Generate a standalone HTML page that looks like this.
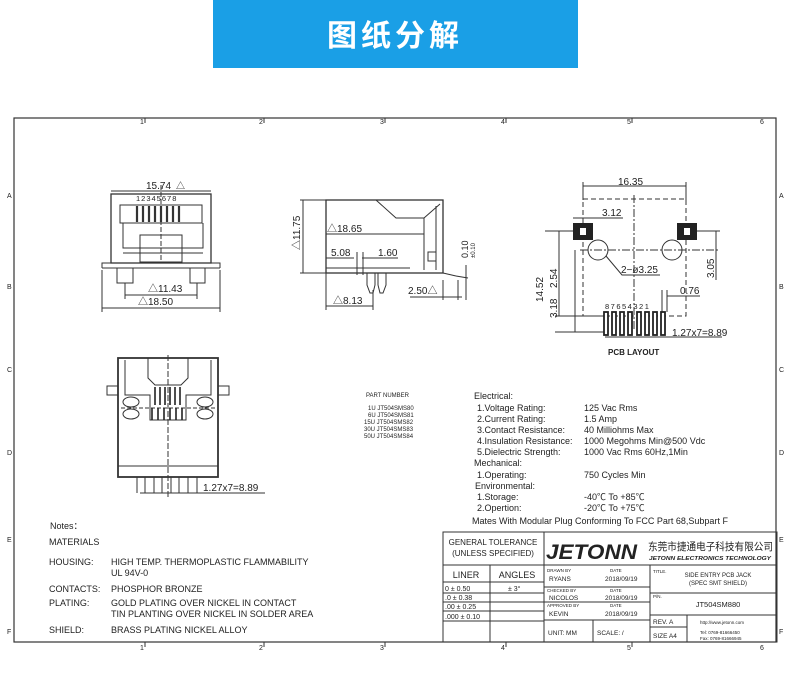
<!DOCTYPE html>
<html><head><meta charset="utf-8"><style>
body{margin:0;background:#fff;width:790px;height:699px;overflow:hidden}
svg{display:block}
text{font-family:"Liberation Sans","Noto Sans CJK SC",sans-serif;fill:#222}
</style></head><body>
<svg width="790" height="699" viewBox="0 0 790 699" xmlns="http://www.w3.org/2000/svg">
<rect x="213" y="0" width="365" height="68" fill="#1a9fe6"/>
<text x="395" y="46" text-anchor="middle" font-size="30" font-weight="bold" style="fill:#fff;letter-spacing:4px" font-family="Noto Sans CJK SC,sans-serif">图纸分解</text>

<g stroke="#333" fill="none" stroke-width="1.2">
<rect x="14" y="118" width="762" height="524"/>
</g>
<g font-size="7" font-family="Liberation Serif">
<text x="140" y="124">1</text><text x="259" y="124">2</text><text x="380" y="124">3</text><text x="501" y="124">4</text><text x="627" y="124">5</text><text x="760" y="124">6</text>
<text x="140" y="650">1</text><text x="259" y="650">2</text><text x="380" y="650">3</text><text x="501" y="650">4</text><text x="627" y="650">5</text><text x="760" y="650">6</text>
<text x="7" y="198">A</text><text x="7" y="289">B</text><text x="7" y="372">C</text><text x="7" y="455">D</text><text x="7" y="542">E</text><text x="7" y="634">F</text>
<text x="779" y="198">A</text><text x="779" y="289">B</text><text x="779" y="372">C</text><text x="779" y="455">D</text><text x="779" y="542">E</text><text x="779" y="634">F</text>
</g>
<g stroke="#333" stroke-width="1">
<line x1="145" y1="118" x2="145" y2="123"/><line x1="264" y1="118" x2="264" y2="123"/><line x1="385" y1="118" x2="385" y2="123"/><line x1="506" y1="118" x2="506" y2="123"/><line x1="632" y1="118" x2="632" y2="123"/>
<line x1="145" y1="642" x2="145" y2="647"/><line x1="264" y1="642" x2="264" y2="647"/><line x1="385" y1="642" x2="385" y2="647"/><line x1="506" y1="642" x2="506" y2="647"/><line x1="632" y1="642" x2="632" y2="647"/>
</g>

<!-- front view -->
<g stroke="#333" fill="none" stroke-width="1">
<line x1="111" y1="191" x2="211" y2="191"/>
<rect x="111" y="194" width="100" height="69" stroke-width="1.3"/>
<rect x="120" y="205" width="82" height="18"/>
<g stroke-width="2.2"><line x1="137" y1="206" x2="137" y2="222"/><line x1="143" y1="206" x2="143" y2="222"/><line x1="149" y1="206" x2="149" y2="222"/><line x1="155" y1="206" x2="155" y2="222"/><line x1="161" y1="206" x2="161" y2="222"/><line x1="167" y1="206" x2="167" y2="222"/><line x1="173" y1="206" x2="173" y2="222"/><line x1="179" y1="206" x2="179" y2="222"/></g>
<polyline points="123,223 123,248 203,248 203,223"/>
<rect x="140" y="235" width="42" height="27"/>
<line x1="123" y1="253" x2="203" y2="253"/>
<polyline points="102,268 102,263 220,263 220,268"/>
<line x1="102" y1="268" x2="220" y2="268"/>
<rect x="117" y="268" width="16" height="15"/><rect x="190" y="268" width="15" height="15"/>
<line x1="125" y1="295" x2="197" y2="295"/><line x1="125" y1="283" x2="125" y2="299"/><line x1="197" y1="283" x2="197" y2="299"/>
<line x1="102" y1="308" x2="220" y2="308"/><line x1="102" y1="270" x2="102" y2="312"/><line x1="220" y1="270" x2="220" y2="312"/>
<line x1="161" y1="185" x2="161" y2="262" stroke-dasharray="5,2"/>
</g>
<g font-size="10"><text x="146" y="189">15.74</text><text x="136" y="201" font-size="7.5" style="letter-spacing:1px">12345678</text>
<text x="148" y="292">△11.43</text><text x="138" y="305">△18.50</text><text x="176" y="189" font-size="9">△</text></g>

<!-- side view -->
<g stroke="#333" fill="none" stroke-width="1">
<rect x="326" y="200" width="117" height="73" stroke-width="1.3"/>
<polyline points="376,200 396,218 424,218 440,204"/>
<line x1="424" y1="218" x2="424" y2="270"/>
<line x1="436" y1="206" x2="436" y2="270"/>
<line x1="300" y1="200" x2="326" y2="200"/><line x1="300" y1="273" x2="326" y2="273"/><line x1="303" y1="200" x2="303" y2="273"/>
<line x1="326" y1="234" x2="424" y2="234"/>
<rect x="428" y="252" width="8" height="9"/>
<line x1="326" y1="258" x2="354" y2="258"/><line x1="362" y1="258" x2="398" y2="258"/>
<line x1="357" y1="252" x2="357" y2="275"/><line x1="363" y1="252" x2="363" y2="275"/>
<line x1="326" y1="268" x2="410" y2="268"/>
<path d="M367 273 v12 l3 8 h3 l2-8 v-12 M378 273 v12 l2 8 h3 l3-8 v-12"/>
<line x1="326" y1="273" x2="326" y2="310"/><line x1="373" y1="290" x2="373" y2="310"/><line x1="326" y1="306" x2="373" y2="306"/>
<line x1="443" y1="273" x2="456" y2="276"/><line x1="456" y1="276" x2="468" y2="278"/>
<line x1="410" y1="297" x2="462" y2="297"/><line x1="443" y1="280" x2="443" y2="300"/><line x1="458" y1="280" x2="458" y2="300"/>
<line x1="466" y1="265" x2="466" y2="300"/>
</g>
<g font-size="10"><text x="327" y="232">△18.65</text><text x="331" y="256">5.08</text><text x="378" y="256">1.60</text>
<text x="333" y="304">△8.13</text><text x="408" y="294">2.50△</text>
<text transform="translate(300,250) rotate(-90)">△11.75</text>
<text transform="translate(468,258) rotate(-90)" font-size="9">0.10</text>
<text transform="translate(475,258) rotate(-90)" font-size="6">±0.10</text></g>

<!-- PCB layout -->
<g stroke="#333" fill="none" stroke-width="1">
<line x1="583" y1="186" x2="686" y2="186"/><line x1="583" y1="182" x2="583" y2="200"/><line x1="686" y1="182" x2="686" y2="200"/>
<rect x="583" y="199" width="103" height="117" stroke-dasharray="5,3"/>
<line x1="634" y1="195" x2="634" y2="330" stroke-dasharray="8,2,2,2"/>
<line x1="580" y1="250" x2="720" y2="250" stroke-dasharray="8,2,2,2"/>
<circle cx="598" cy="250" r="10"/><circle cx="672" cy="250" r="10"/>
<polyline points="606,256 622,275 660,275"/>
<line x1="573" y1="218" x2="623" y2="218"/>
<line x1="545" y1="231" x2="573" y2="231"/><line x1="697" y1="231" x2="720" y2="231"/>
<line x1="559" y1="231" x2="559" y2="316"/><line x1="575" y1="250" x2="575" y2="332"/><line x1="716" y1="231" x2="716" y2="280"/>
<line x1="555" y1="316" x2="605" y2="316"/><line x1="555" y1="332" x2="605" y2="332"/>
<line x1="667" y1="296" x2="700" y2="296"/><line x1="662" y1="290" x2="662" y2="312"/><line x1="667" y1="290" x2="667" y2="312"/>
<line x1="605" y1="337" x2="722" y2="337"/>
</g>
<rect x="573" y="223" width="20" height="17" fill="#222"/><rect x="580" y="228" width="6" height="7" fill="#fff"/>
<rect x="677" y="223" width="20" height="17" fill="#222"/><rect x="684" y="228" width="6" height="7" fill="#fff"/>
<g fill="#fff" stroke="#222" stroke-width="1.8">
<rect x="604" y="312" width="4" height="23"/><rect x="612" y="312" width="4" height="23"/><rect x="620" y="312" width="4" height="23"/><rect x="628" y="312" width="4" height="23"/><rect x="637" y="312" width="4" height="23"/><rect x="645" y="312" width="4" height="23"/><rect x="653" y="312" width="4" height="23"/><rect x="661" y="312" width="4" height="23"/>
</g>
<g font-size="10"><text x="618" y="185">16.35</text><text x="602" y="216">3.12</text><text x="621" y="273">2−ø3.25</text><text x="680" y="294">0.76</text><text x="672" y="336">1.27x7=8.89</text>
<text x="605" y="309" font-size="7.5" style="letter-spacing:1.5px">87654321</text>
<text x="608" y="355" font-size="8" font-weight="bold" font-family="Liberation Serif">PCB LAYOUT</text>
<text transform="translate(543,302) rotate(-90)">14.52</text><text transform="translate(557,288) rotate(-90)">2.54</text>
<text transform="translate(557,318) rotate(-90)">3.18</text><text transform="translate(714,278) rotate(-90)">3.05</text></g>

<!-- bottom left view -->
<g stroke="#333" fill="none" stroke-width="1">
<rect x="118" y="358" width="100" height="119" stroke-width="1.8"/>
<polyline points="148,358 148,378 155,385 181,385 188,378 188,358"/>
<polyline points="125,360 125,395 150,395 150,420 186,420 186,395 211,395 211,360"/>
<line x1="121" y1="408" x2="215" y2="408" stroke-dasharray="4,2"/>
<ellipse cx="131" cy="402" rx="8" ry="5"/><ellipse cx="131" cy="414" rx="8" ry="5"/>
<ellipse cx="205" cy="402" rx="8" ry="5"/><ellipse cx="205" cy="414" rx="8" ry="5"/>
<rect x="107" y="386" width="11" height="9"/><rect x="218" y="386" width="11" height="9"/>
<line x1="168" y1="355" x2="168" y2="498" stroke-dasharray="6,2"/>
<line x1="118" y1="466" x2="218" y2="466"/>
<line x1="137" y1="477" x2="137" y2="493"/><line x1="145" y1="477" x2="145" y2="493"/><line x1="154" y1="477" x2="154" y2="493"/><line x1="162" y1="477" x2="162" y2="493"/><line x1="171" y1="477" x2="171" y2="493"/><line x1="179" y1="477" x2="179" y2="493"/><line x1="188" y1="477" x2="188" y2="493"/><line x1="197" y1="477" x2="197" y2="493"/>
<line x1="140" y1="493" x2="265" y2="493"/>
</g>
<g stroke="#222" stroke-width="1.6">
<line x1="155" y1="387" x2="155" y2="405"/><line x1="160" y1="387" x2="160" y2="405"/><line x1="165" y1="387" x2="165" y2="405"/><line x1="170" y1="387" x2="170" y2="405"/><line x1="175" y1="387" x2="175" y2="405"/><line x1="180" y1="387" x2="180" y2="405"/>
<line x1="152" y1="408" x2="152" y2="420"/><line x1="158" y1="408" x2="158" y2="420"/><line x1="164" y1="408" x2="164" y2="420"/><line x1="170" y1="408" x2="170" y2="420"/><line x1="176" y1="408" x2="176" y2="420"/><line x1="182" y1="408" x2="182" y2="420"/>
</g>
<text x="203" y="491" font-size="10">1.27x7=8.89</text>

<!-- part numbers -->
<g font-size="6"><text x="366" y="397">PART NUMBER</text>
<text x="368" y="410">1U  JT504SMS80</text><text x="368" y="417">6U  JT504SMS81</text><text x="364" y="424">15U  JT504SMS82</text><text x="364" y="431">30U  JT504SMS83</text><text x="364" y="438">50U  JT504SMS84</text></g>

<g font-size="9">
<text x="474" y="399">Electrical:</text>
<text x="477" y="411">1.Voltage Rating:</text><text x="584" y="411">125 Vac Rms</text>
<text x="477" y="422">2.Current Rating:</text><text x="584" y="422">1.5 Amp</text>
<text x="477" y="433">3.Contact Resistance:</text><text x="584" y="433">40 Milliohms Max</text>
<text x="477" y="444">4.Insulation Resistance:</text><text x="584" y="444">1000 Megohms Min@500 Vdc</text>
<text x="477" y="455">5.Dielectric Strength:</text><text x="584" y="455">1000 Vac Rms 60Hz,1Min</text>
<text x="474" y="466">Mechanical:</text>
<text x="477" y="478">1.Operating:</text><text x="584" y="478">750 Cycles Min</text>
<text x="475" y="489">Environmental:</text>
<text x="477" y="500">1.Storage:</text><text x="584" y="500">-40℃ To +85℃</text>
<text x="477" y="511">2.Opertion:</text><text x="584" y="511">-20℃ To +75℃</text>
<text x="472" y="524">Mates With Modular Plug Conforming To FCC Part 68,Subpart F</text>
</g>

<g font-size="9">
<text x="50" y="529">Notes：</text><text x="49" y="545">MATERIALS</text>
<text x="49" y="565">HOUSING:</text><text x="111" y="565">HIGH TEMP. THERMOPLASTIC FLAMMABILITY</text><text x="111" y="576">UL 94V-0</text>
<text x="49" y="592">CONTACTS:</text><text x="111" y="592">PHOSPHOR BRONZE</text>
<text x="49" y="606">PLATING:</text><text x="111" y="606">GOLD PLATING OVER NICKEL IN CONTACT</text><text x="111" y="617">TIN PLANTING OVER NICKEL IN SOLDER AREA</text>
<text x="49" y="633">SHIELD:</text><text x="111" y="633">BRASS PLATING NICKEL ALLOY</text>
</g>

<!-- title block -->
<g stroke="#333" fill="none" stroke-width="1">
<rect x="443" y="532" width="334" height="110"/>
<line x1="544" y1="532" x2="544" y2="642"/>
<line x1="443" y1="565" x2="777" y2="565"/>
<line x1="490" y1="565" x2="490" y2="642"/>
<line x1="443" y1="582" x2="544" y2="582"/><line x1="443" y1="593" x2="544" y2="593"/><line x1="443" y1="602" x2="544" y2="602"/><line x1="443" y1="611" x2="544" y2="611"/><line x1="443" y1="621" x2="544" y2="621"/>
<line x1="650" y1="565" x2="650" y2="642"/>
<line x1="544" y1="587" x2="650" y2="587"/><line x1="544" y1="602" x2="650" y2="602"/><line x1="544" y1="620" x2="650" y2="620"/>
<line x1="593" y1="620" x2="593" y2="642"/>
<line x1="650" y1="593" x2="777" y2="593"/><line x1="650" y1="615" x2="777" y2="615"/>
<line x1="687" y1="615" x2="687" y2="642"/><line x1="650" y1="627" x2="687" y2="627"/>
</g>
<g font-size="8">
<text x="493" y="545" text-anchor="middle">GENERAL TOLERANCE</text><text x="493" y="556" text-anchor="middle">(UNLESS SPECIFIED)</text>
<text x="466" y="578" text-anchor="middle" font-size="9">LINER</text><text x="517" y="578" text-anchor="middle" font-size="9">ANGLES</text>
<g font-family="Liberation Serif" font-size="7"><text x="445" y="591">0  ±  0.50</text><text x="508" y="591">±  3°</text><text x="445" y="600">.0  ±  0.38</text><text x="445" y="609">.00  ±  0.25</text><text x="445" y="619">.000 ±  0.10</text></g>
<text x="546" y="559" font-size="21" font-weight="bold" font-style="italic" textLength="91" lengthAdjust="spacingAndGlyphs">JETONN</text>
<text x="648" y="550" font-size="10.5" font-family="Noto Sans CJK SC,sans-serif" textLength="125" lengthAdjust="spacingAndGlyphs">东莞市捷通电子科技有限公司</text>
<text x="649" y="560" font-size="5.5" font-weight="bold" font-style="italic" textLength="122" lengthAdjust="spacingAndGlyphs">JETONN ELECTRONICS TECHNOLOGY</text>
<g font-size="4.5"><text x="547" y="572">DRAWN BY</text><text x="610" y="572">DATE</text><text x="547" y="592">CHECKED BY</text><text x="610" y="592">DATE</text><text x="547" y="607">APPROVED BY</text><text x="610" y="607">DATE</text><text x="653" y="573">TITLE.</text><text x="653" y="598">P/N.</text></g>
<g font-size="6.5"><text x="549" y="581">RYANS</text><text x="605" y="581">2018/09/19</text><text x="549" y="600">NICOLOS</text><text x="605" y="600">2018/09/19</text><text x="549" y="616">KEVIN</text><text x="605" y="616">2018/09/19</text>
<text x="548" y="635">UNIT:  MM</text><text x="597" y="635">SCALE:  /</text>
<text x="718" y="577" text-anchor="middle" font-size="6">SIDE ENTRY PCB JACK</text><text x="718" y="585" text-anchor="middle" font-size="6">(SPEC SMT SHIELD)</text>
<text x="718" y="607" text-anchor="middle" font-size="7.5">JT504SM880</text>
<text x="653" y="624">REV.  A</text><text x="653" y="638">SIZE  A4</text>
<text x="700" y="624" font-size="4.5">http://www.jetonn.com</text><text x="700" y="634" font-size="4.5">Tel:  0769-81666450</text><text x="700" y="640" font-size="4.5">Fax:  0769-81666945</text></g>
</g>
</svg>
</body></html>
